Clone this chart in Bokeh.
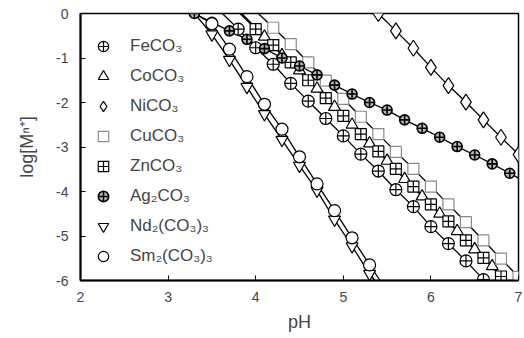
from bokeh.plotting import figure
from bokeh.models import Range1d, FixedTicker, Legend, LegendItem
from bokeh.embed import file_html
from bokeh.resources import INLINE

# ---- data ----
fe_ph = [3.8, 4.0, 4.2, 4.4, 4.6, 4.8, 5.0, 5.2, 5.4, 5.6, 5.8, 6.0, 6.2, 6.4, 6.6]
fe_log = [-0.35, -0.77, -1.14, -1.57, -1.97, -2.36, -2.75, -3.16, -3.54, -3.96, -4.34, -4.79, -5.17, -5.56, -5.98]
fe_curve_ends = [(3.62, 0.0), (6.61, -6.0)]

co_ph = [4.1, 4.3, 4.5, 4.7, 4.9, 5.1, 5.3, 5.5, 5.7, 5.9, 6.1, 6.3, 6.5, 6.7]
co_log = [-0.52, -0.94, -1.28, -1.69, -2.10, -2.50, -2.92, -3.31, -3.72, -4.11, -4.50, -4.89, -5.30, -5.68]
co_curve_ends = [(3.84, 0.0), (6.86, -6.0)]

ni_ph = [5.4, 5.6, 5.8, 6.0, 6.2, 6.4, 6.6, 6.8, 7.0]
ni_log = [0.0, -0.39, -0.78, -1.21, -1.62, -1.99, -2.39, -2.78, -3.17]
ni_curve_ends = [(5.4, 0.0), (7.0, -3.17)]

cu_ph = [4.2, 4.4, 4.6, 4.8, 5.0, 5.2, 5.4, 5.6, 5.8, 6.0, 6.2, 6.4, 6.6, 6.8, 7.0]
cu_log = [-0.32, -0.69, -1.10, -1.51, -1.92, -2.32, -2.71, -3.11, -3.49, -3.89, -4.29, -4.69, -5.10, -5.51, -5.92]
cu_curve_ends = [(4.03, 0.0), (7.04, -6.0)]

zn_ph = [4.0, 4.2, 4.4, 4.6, 4.8, 5.0, 5.2, 5.4, 5.6, 5.8, 6.0, 6.2, 6.4, 6.6, 6.8]
zn_log = [-0.35, -0.71, -1.10, -1.50, -1.90, -2.30, -2.71, -3.10, -3.49, -3.89, -4.29, -4.67, -5.10, -5.49, -5.91]
zn_curve_ends = [(3.82, 0.0), (6.85, -6.0)]

ag_ph = [3.3, 3.5, 3.7, 3.9, 4.1, 4.3, 4.5, 4.7, 4.9, 5.1, 5.3, 5.5, 5.7, 5.9, 6.1, 6.3, 6.5, 6.7, 6.9]
ag_log = [0.0, -0.2, -0.39, -0.58, -0.79, -1.0, -1.18, -1.38, -1.61, -1.81, -2.0, -2.17, -2.39, -2.58, -2.78, -2.99, -3.18, -3.38, -3.59]
ag_curve_ends = [(3.3, 0.0), (7.0, -3.7)]

nd_ph = [3.5, 3.7, 3.9, 4.1, 4.3, 4.5, 4.7, 4.9, 5.1, 5.3]
nd_log = [-0.47, -1.04, -1.65, -2.26, -2.84, -3.42, -3.98, -4.63, -5.23, -5.85]
nd_curve_ends = [(3.3, 0.0), (5.36, -6.0)]

sm_ph = [3.5, 3.7, 3.9, 4.1, 4.3, 4.5, 4.7, 4.9, 5.1, 5.3]
sm_log = [-0.23, -0.80, -1.42, -2.04, -2.60, -3.22, -3.83, -4.43, -5.04, -5.65]
sm_curve_ends = [(3.3, 0.0), (5.42, -6.0)]

x_ticks = [2, 3, 4, 5, 6, 7]
y_ticks = [0, -1, -2, -3, -4, -5, -6]

FONT = "Liberation Sans"

p = figure(width=522, height=336, output_backend="svg", toolbar_location=None,
           x_range=Range1d(2, 7), y_range=Range1d(-6, 0),
           min_border_left=80, min_border_top=13, min_border_right=4, min_border_bottom=56)
p.grid.visible = False
p.outline_line_color = "black"
p.outline_line_width = 1.5
p.background_fill_color = "white"

series = [
    ("FeCO₃", fe_ph, fe_log, fe_curve_ends, "circle_cross", 12, "black", 1.2),
    ("CoCO₃", co_ph, co_log, co_curve_ends, "triangle", 12, "black", 1.2),
    ("NiCO₃", ni_ph, ni_log, ni_curve_ends, "diamond", 16, "black", 1.2),
    ("CuCO₃", cu_ph, cu_log, cu_curve_ends, "square", 11, "#8a8a8a", 1.2),
    ("ZnCO₃", zn_ph, zn_log, zn_curve_ends, "square_cross", 11, "black", 1.2),
    ("Ag₂CO₃", ag_ph, ag_log, ag_curve_ends, "circle_cross", 10, "black", 1.6),
    ("Nd₂(CO₃)₃", nd_ph, nd_log, nd_curve_ends, "inverted_triangle", 12, "black", 1.2),
    ("Sm₂(CO₃)₃", sm_ph, sm_log, sm_curve_ends, "circle", 12, "black", 1.2),
]

for name, xs, ys, ends, m, s, c, lw in series:
    cx = [ends[0][0]] + xs + [ends[1][0]]
    cy = [ends[0][1]] + ys + [ends[1][1]]
    p.line(cx, cy, line_color="black", line_width=1.3)

items = []
for name, xs, ys, ends, m, s, c, lw in series:
    fill = "#bbbbbb" if name.startswith("Ag") else "white"
    r = p.scatter(xs, ys, marker=m, size=s, line_color=c, line_width=lw, fill_color=fill)
    items.append(LegendItem(label=name, renderers=[r]))

legend = Legend(items=items, location=(10, 11), margin=0, padding=0,
                glyph_width=26, glyph_height=26, label_height=26, spacing=4,
                label_standoff=14, label_text_font=FONT, label_text_font_size="17px",
                background_fill_alpha=0, border_line_alpha=0)
p.add_layout(legend, "center")

for ax in (p.xaxis, p.yaxis):
    ax.axis_line_width = 2
    ax.major_tick_in = 5
    ax.major_tick_out = 0
    ax.minor_tick_line_color = None
    ax.major_label_text_font = FONT
    ax.major_label_text_font_size = "14px"
    ax.axis_label_text_font = FONT
    ax.axis_label_text_font_style = "normal"
    ax.axis_label_text_font_size = "18px"

p.xaxis.ticker = FixedTicker(ticks=x_ticks)
p.yaxis.ticker = FixedTicker(ticks=y_ticks)
p.xaxis.major_label_overrides = {t: str(t) for t in x_ticks}
p.yaxis.major_label_overrides = {t: str(t) for t in y_ticks}
p.xaxis.major_label_standoff = 11
p.yaxis.major_label_standoff = 12
p.xaxis.axis_label = "pH"
p.yaxis.axis_label = "log[Mⁿ⁺]"
p.xaxis.axis_label_standoff = 7
p.yaxis.axis_label_standoff = 16

open("out.html", "w").write(file_html(p, INLINE))
